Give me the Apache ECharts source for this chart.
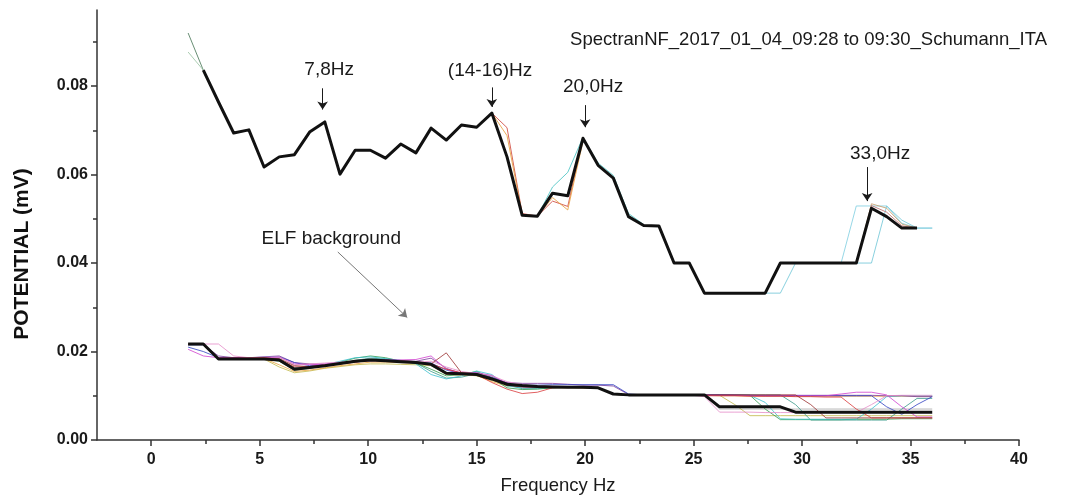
<!DOCTYPE html>
<html>
<head>
<meta charset="utf-8">
<title>Schumann ITA spectrum</title>
<script src="https://cdn.jsdelivr.net/npm/echarts@6/dist/echarts.min.js"></script>
<style>
  html, body { margin: 0; padding: 0; background: #fff; }
  #chart { width: 1069px; height: 502px; }
</style>
</head>
<body>
<div id="chart"></div>
<script>
// Frequency grid of the Spectran NF export (Hz)
const freq = [1.7, 2.4, 3.1, 3.8, 4.5, 5.2, 5.9, 6.6, 7.3, 8.0,
  8.7, 9.4, 10.1, 10.8, 11.5, 12.2, 12.9, 13.6, 14.3, 15.0,
  15.7, 16.4, 17.1, 17.8, 18.5, 19.2, 19.9, 20.6, 21.3, 22.0,
  22.7, 23.4, 24.1, 24.8, 25.5, 26.2, 26.9, 27.6, 28.3, 29.0,
  29.7, 30.4, 31.1, 31.8, 32.5, 33.2, 33.9, 34.6, 35.3, 36.0];

// Schumann resonance recording, mean curve (mV)
const schumannMean = [null, 0.0836, 0.0764, 0.0694, 0.0701, 0.0617, 0.0640, 0.0645, 0.0696, 0.0719,
  0.0601, 0.0655, 0.0655, 0.0637, 0.0669, 0.0649, 0.0705, 0.0678, 0.0712, 0.0707,
  0.0739, 0.0640, 0.0508, 0.0506, 0.0558, 0.0552, 0.0682, 0.0621, 0.0592, 0.0505,
  0.0485, 0.0484, 0.0400, 0.0400, 0.0332, 0.0332, 0.0332, 0.0332, 0.0332, 0.0400,
  0.0400, 0.0400, 0.0400, 0.0400, 0.0400, 0.0524, 0.0505, 0.0479, 0.0479, null];

// Individual sweeps where they leave the mean curve
const sweepGreenF = [1.7, 2.4];
const sweepGreenV = [0.0920, 0.0836];
const sweepLightGreenF = [1.7, 2.4];
const sweepLightGreenV = [0.0877, 0.0836];
const sweepRedF = [15.7, 16.4, 17.1, 17.8, 18.5, 19.2, 19.9];
const sweepRedV = [0.0739, 0.0706, 0.0512, 0.0506, 0.0540, 0.0528, 0.0682];
const sweepOrangeF = [15.7, 16.4, 17.1, 17.8, 18.5, 19.2, 19.9];
const sweepOrangeV = [0.0739, 0.0688, 0.0510, 0.0506, 0.0548, 0.0520, 0.0675];
const sweepCyanF = [17.8, 18.5, 19.2, 19.9, 20.6, 21.3, 22.0, 22.7];
const sweepCyanV = [0.0506, 0.0572, 0.0605, 0.0684, 0.0626, 0.0598, 0.0512, 0.0487];
const sweepCyanLateF = [27.6, 28.3, 29.0, 29.7, 30.4, 31.1, 31.8, 32.5, 33.2, 33.9, 34.6, 35.3, 36.0];
const sweepCyanLateV = [0.0332, 0.0332, 0.0332, 0.0400, 0.0400, 0.0400, 0.0400, 0.0400, 0.0400, 0.0529, 0.0497, 0.0479, 0.0479];
const sweepCyanEarlyF = [31.1, 31.8, 32.5, 33.2, 33.9, 34.6, 35.3, 36.0];
const sweepCyanEarlyV = [0.0400, 0.0400, 0.0529, 0.0529, 0.0529, 0.0490, 0.0479, 0.0479];
const sweepTanF = [32.5, 33.2, 33.9, 34.6, 35.3];
const sweepTanV = [0.0400, 0.0534, 0.0524, 0.0488, 0.0479];
const sweepRoseF = [32.5, 33.2, 33.9, 34.6, 35.3];
const sweepRoseV = [0.0400, 0.0530, 0.0515, 0.0484, 0.0479];

// ELF background, mean curve (mV)
const elfMean = [0.0217, 0.0217, 0.0183, 0.0183, 0.0183, 0.0183, 0.0181, 0.0160, 0.0164, 0.0168,
  0.0173, 0.0178, 0.0181, 0.0179, 0.0177, 0.0175, 0.0171, 0.0151, 0.0150, 0.0148,
  0.0138, 0.0126, 0.0123, 0.0121, 0.0120, 0.0119, 0.0119, 0.0118, 0.0104, 0.0102,
  0.0102, 0.0102, 0.0102, 0.0102, 0.0102, 0.0075, 0.0075, 0.0075, 0.0075, 0.0075,
  0.0063, 0.0063, 0.0063, 0.0063, 0.0063, 0.0063, 0.0063, 0.0063, 0.0063, 0.0063];

// ELF background, individual sweeps (mV)
const elfRed = [0.0217, 0.0217, 0.0185, 0.0185, 0.0185, 0.0186, 0.0182, 0.0165, 0.0166, 0.0170,
  0.0172, 0.0176, 0.0180, 0.0178, 0.0176, 0.0175, 0.0172, 0.0160, 0.0152, 0.0148,
  0.0130, 0.0115, 0.0105, 0.0108, 0.0118, 0.0120, 0.0120, 0.0118, 0.0104, 0.0102,
  0.0102, 0.0102, 0.0102, 0.0102, 0.0100, 0.0100, 0.0100, 0.0099, 0.0099, 0.0099,
  0.0098, 0.0098, 0.0097, 0.0097, 0.0070, 0.0050, 0.0050, 0.0050, 0.0050, 0.0050];
const elfPink = [0.0217, 0.0217, 0.0217, 0.0190, 0.0186, 0.0187, 0.0188, 0.0170, 0.0172, 0.0174,
  0.0176, 0.0178, 0.0180, 0.0180, 0.0178, 0.0176, 0.0178, 0.0165, 0.0155, 0.0150,
  0.0145, 0.0132, 0.0125, 0.0122, 0.0121, 0.0120, 0.0119, 0.0118, 0.0105, 0.0102,
  0.0102, 0.0102, 0.0102, 0.0102, 0.0098, 0.0063, 0.0063, 0.0063, 0.0062, 0.0062,
  0.0062, 0.0062, 0.0062, 0.0062, 0.0062, 0.0080, 0.0100, 0.0101, 0.0101, 0.0101];
const elfMagenta = [0.0205, 0.0190, 0.0186, 0.0186, 0.0186, 0.0186, 0.0187, 0.0172, 0.0170, 0.0172,
  0.0175, 0.0177, 0.0179, 0.0180, 0.0181, 0.0182, 0.0190, 0.0160, 0.0151, 0.0152,
  0.0146, 0.0128, 0.0120, 0.0119, 0.0120, 0.0121, 0.0120, 0.0119, 0.0103, 0.0102,
  0.0102, 0.0102, 0.0102, 0.0102, 0.0101, 0.0101, 0.0101, 0.0100, 0.0100, 0.0100,
  0.0100, 0.0100, 0.0100, 0.0104, 0.0108, 0.0108, 0.0102, 0.0075, 0.0052, 0.0052];
const elfBlue = [0.0210, 0.0200, 0.0186, 0.0186, 0.0186, 0.0187, 0.0188, 0.0175, 0.0168, 0.0170,
  0.0175, 0.0178, 0.0180, 0.0179, 0.0177, 0.0176, 0.0174, 0.0158, 0.0150, 0.0152,
  0.0142, 0.0128, 0.0124, 0.0124, 0.0125, 0.0125, 0.0125, 0.0125, 0.0125, 0.0104,
  0.0102, 0.0102, 0.0102, 0.0102, 0.0102, 0.0102, 0.0101, 0.0101, 0.0100, 0.0100,
  0.0100, 0.0100, 0.0100, 0.0100, 0.0100, 0.0100, 0.0075, 0.0058, 0.0080, 0.0098];
const elfPurple = [0.0215, 0.0215, 0.0190, 0.0186, 0.0186, 0.0188, 0.0190, 0.0175, 0.0172, 0.0171,
  0.0174, 0.0177, 0.0181, 0.0182, 0.0180, 0.0178, 0.0185, 0.0162, 0.0150, 0.0150,
  0.0140, 0.0130, 0.0128, 0.0128, 0.0128, 0.0126, 0.0124, 0.0124, 0.0122, 0.0103,
  0.0102, 0.0102, 0.0102, 0.0102, 0.0102, 0.0102, 0.0102, 0.0101, 0.0101, 0.0101,
  0.0101, 0.0101, 0.0101, 0.0101, 0.0101, 0.0101, 0.0100, 0.0100, 0.0098, 0.0098];
const elfGreen = [0.0216, 0.0216, 0.0184, 0.0184, 0.0184, 0.0184, 0.0178, 0.0158, 0.0162, 0.0168,
  0.0176, 0.0185, 0.0190, 0.0186, 0.0178, 0.0174, 0.0160, 0.0145, 0.0148, 0.0155,
  0.0140, 0.0118, 0.0114, 0.0115, 0.0118, 0.0119, 0.0119, 0.0118, 0.0104, 0.0102,
  0.0102, 0.0102, 0.0102, 0.0102, 0.0102, 0.0102, 0.0102, 0.0101, 0.0070, 0.0046,
  0.0046, 0.0046, 0.0046, 0.0046, 0.0047, 0.0047, 0.0047, 0.0048, 0.0048, 0.0048];
const elfCyan = [0.0215, 0.0215, 0.0184, 0.0184, 0.0184, 0.0184, 0.0180, 0.0162, 0.0164, 0.0170,
  0.0178, 0.0186, 0.0188, 0.0184, 0.0180, 0.0172, 0.0148, 0.0138, 0.0145, 0.0156,
  0.0148, 0.0122, 0.0118, 0.0118, 0.0119, 0.0120, 0.0119, 0.0118, 0.0103, 0.0102,
  0.0102, 0.0102, 0.0102, 0.0102, 0.0102, 0.0101, 0.0101, 0.0101, 0.0085, 0.0048,
  0.0047, 0.0047, 0.0047, 0.0047, 0.0047, 0.0070, 0.0098, 0.0100, 0.0100, 0.0100];
const elfOrange = [0.0216, 0.0216, 0.0184, 0.0184, 0.0184, 0.0184, 0.0170, 0.0155, 0.0158, 0.0163,
  0.0168, 0.0172, 0.0176, 0.0176, 0.0175, 0.0173, 0.0170, 0.0148, 0.0146, 0.0146,
  0.0132, 0.0122, 0.0120, 0.0119, 0.0118, 0.0118, 0.0118, 0.0117, 0.0103, 0.0102,
  0.0102, 0.0102, 0.0102, 0.0102, 0.0101, 0.0100, 0.0100, 0.0099, 0.0099, 0.0099,
  0.0099, 0.0099, 0.0099, 0.0099, 0.0099, 0.0099, 0.0099, 0.0099, 0.0099, 0.0099];
const elfOlive = [0.0216, 0.0216, 0.0184, 0.0184, 0.0184, 0.0183, 0.0165, 0.0152, 0.0156, 0.0162,
  0.0166, 0.0170, 0.0172, 0.0172, 0.0171, 0.0170, 0.0168, 0.0152, 0.0148, 0.0145,
  0.0135, 0.0124, 0.0121, 0.0120, 0.0120, 0.0119, 0.0118, 0.0117, 0.0103, 0.0101,
  0.0101, 0.0101, 0.0101, 0.0101, 0.0101, 0.0101, 0.0080, 0.0055, 0.0055, 0.0055,
  0.0055, 0.0055, 0.0055, 0.0055, 0.0055, 0.0055, 0.0055, 0.0055, 0.0055, 0.0055];
const elfDarkRed = [0.0216, 0.0216, 0.0184, 0.0185, 0.0185, 0.0185, 0.0184, 0.0168, 0.0166, 0.0168,
  0.0172, 0.0176, 0.0180, 0.0180, 0.0179, 0.0177, 0.0172, 0.0197, 0.0152, 0.0150,
  0.0140, 0.0124, 0.0120, 0.0120, 0.0120, 0.0119, 0.0118, 0.0118, 0.0104, 0.0102,
  0.0102, 0.0102, 0.0102, 0.0102, 0.0102, 0.0102, 0.0102, 0.0102, 0.0102, 0.0102,
  0.0102, 0.0080, 0.0050, 0.0050, 0.0050, 0.0050, 0.0050, 0.0050, 0.0050, 0.0050];
const elfTeal = [0.0216, 0.0216, 0.0184, 0.0184, 0.0184, 0.0184, 0.0182, 0.0164, 0.0165, 0.0168,
  0.0172, 0.0180, 0.0185, 0.0183, 0.0178, 0.0174, 0.0155, 0.0140, 0.0142, 0.0150,
  0.0145, 0.0125, 0.0116, 0.0116, 0.0118, 0.0119, 0.0119, 0.0118, 0.0103, 0.0102,
  0.0102, 0.0102, 0.0102, 0.0102, 0.0102, 0.0102, 0.0102, 0.0102, 0.0102, 0.0102,
  0.0080, 0.0045, 0.0045, 0.0045, 0.0045, 0.0045, 0.0045, 0.0070, 0.0094, 0.0094];
const elfGray = [0.0216, 0.0216, 0.0184, 0.0184, 0.0184, 0.0184, 0.0180, 0.0163, 0.0166, 0.0169,
  0.0173, 0.0177, 0.0180, 0.0179, 0.0177, 0.0175, 0.0170, 0.0150, 0.0149, 0.0149,
  0.0136, 0.0125, 0.0122, 0.0120, 0.0119, 0.0119, 0.0119, 0.0118, 0.0103, 0.0102,
  0.0102, 0.0102, 0.0102, 0.0102, 0.0100, 0.0070, 0.0070, 0.0070, 0.0070, 0.0070,
  0.0070, 0.0070, 0.0070, 0.0070, 0.0070, 0.0070, 0.0070, 0.0070, 0.0070, 0.0070];

// Axis ticks
const xMajorTicks = [0, 5, 10, 15, 20, 25, 30, 35, 40];
const xMinorTicks = [2.5, 7.5, 12.5, 17.5, 22.5, 27.5, 32.5, 37.5];
const yMajorTicks = [0, 0.02, 0.04, 0.06, 0.08];
const yMinorTicks = [0.01, 0.03, 0.05, 0.07, 0.09];

const FONT = '"Liberation Sans", Arial, sans-serif';
const INK = '#1a1a1a';

function onGrid(values) { return freq.map((f, i) => [f, values[i]]); }
function pairs(fs, vs) { return fs.map((f, i) => [f, vs[i]]); }

function thin(data, color, opacity) {
  return {
    type: 'line', data: data, symbol: 'none', silent: true, z: 2,
    lineStyle: { color: color, width: 1, opacity: opacity == null ? 0.85 : opacity, join: 'round' }
  };
}

const elfSweeps = [
  [elfGray, '#a8a8a8'], [elfOlive, '#c2b848'], [elfOrange, '#e8a33c'], [elfTeal, '#3a9a8a'],
  [elfGreen, '#2f9a4c'], [elfCyan, '#3cc0d0'], [elfPurple, '#7a3a9a'], [elfBlue, '#3040c0'],
  [elfMagenta, '#d040d0'], [elfPink, '#e58bc8'], [elfRed, '#d9383a'], [elfDarkRed, '#9a3030']
];

const series = [];
series.push(thin(pairs(sweepGreenF, sweepGreenV), '#4d7a5c'));
series.push(thin(pairs(sweepLightGreenF, sweepLightGreenV), '#9cc4a4'));
series.push(thin(pairs(sweepRedF, sweepRedV), '#d04a40'));
series.push(thin(pairs(sweepOrangeF, sweepOrangeV), '#e8a040'));
series.push(thin(pairs(sweepCyanF, sweepCyanV), '#4cc4c4'));
series.push(thin(pairs(sweepCyanLateF, sweepCyanLateV), '#74c8d8'));
series.push(thin(pairs(sweepCyanEarlyF, sweepCyanEarlyV), '#84d0e2'));
series.push(thin(pairs(sweepTanF, sweepTanV), '#c8a070'));
series.push(thin(pairs(sweepRoseF, sweepRoseV), '#c07070'));
elfSweeps.forEach(s => series.push(thin(onGrid(s[0]), s[1], 0.8)));

// ELF background mean
series.push({
  type: 'line', data: onGrid(elfMean), symbol: 'none', silent: true, z: 4,
  lineStyle: { color: '#111', width: 3, join: 'round' }
});

// Schumann mean with the peak annotations
series.push({
  type: 'line', data: onGrid(schumannMean), symbol: 'none', silent: true, z: 5,
  lineStyle: { color: '#111', width: 3, join: 'round' },
  markLine: {
    silent: true, symbol: ['none', 'arrow'], symbolSize: 8, animation: false,
    label: { show: false },
    lineStyle: { type: 'solid', color: INK, width: 1 },
    data: [
      [{ coord: [7.9, 0.0795] }, { coord: [7.9, 0.0747] }],
      [{ coord: [15.7, 0.0797] }, { coord: [15.7, 0.0753] }],
      [{ coord: [20.0, 0.0757] }, { coord: [20.0, 0.0707] }],
      [{ coord: [33.0, 0.0617] }, { coord: [33.0, 0.0540] }],
      [{ coord: [8.6, 0.0425], lineStyle: { color: '#777' } }, { coord: [11.8, 0.0277] }]
    ]
  },
  markPoint: {
    silent: true, symbol: 'circle', symbolSize: 0, animation: false,
    label: { show: true, position: 'inside', color: INK, fontSize: 19, fontFamily: FONT },
    data: [
      { coord: [8.2, 0.0836], label: { formatter: '7,8Hz' } },
      { coord: [15.62, 0.0834], label: { formatter: '(14-16)Hz' } },
      { coord: [20.37, 0.0798], label: { formatter: '20,0Hz' } },
      { coord: [33.6, 0.0648], label: { formatter: '33,0Hz' } },
      { coord: [8.3, 0.0455], label: { formatter: 'ELF background' } }
    ]
  }
});

const axisLineStyle = { color: '#333', width: 1.5 };

const option = {
  animation: false,
  backgroundColor: '#fff',
  title: {
    text: 'SpectranNF_2017_01_04_09:28 to 09:30_Schumann_ITA',
    right: 17, top: 25,
    textStyle: { fontSize: 18.5, fontWeight: 'normal', color: INK, fontFamily: FONT }
  },
  grid: { left: 97, right: 50, top: 10, bottom: 62, outerBoundsMode: 'none' },
  xAxis: [
    {
      type: 'value', min: -2.5, max: 40, position: 'bottom',
      name: 'Frequency Hz', nameLocation: 'middle', nameGap: 36,
      nameTextStyle: { fontSize: 18.5, color: INK, fontFamily: FONT },
      axisLine: { onZero: false, lineStyle: axisLineStyle },
      axisTick: { customValues: xMajorTicks, length: 6, lineStyle: axisLineStyle },
      axisLabel: { customValues: xMajorTicks, margin: 12, fontSize: 16, fontWeight: 'bold', color: INK, fontFamily: FONT },
      splitLine: { show: false }
    },
    {
      type: 'value', min: -2.5, max: 40, position: 'bottom',
      axisLine: { show: false, onZero: false },
      axisTick: { customValues: xMinorTicks, length: 4, lineStyle: axisLineStyle },
      axisLabel: { show: false },
      splitLine: { show: false }
    }
  ],
  yAxis: [
    {
      type: 'value', min: 0, max: 0.0972, position: 'left',
      axisLine: { show: true, onZero: false, lineStyle: axisLineStyle },
      axisTick: { show: true, customValues: yMajorTicks, length: 6, lineStyle: axisLineStyle },
      axisLabel: {
        customValues: yMajorTicks, margin: 9, fontSize: 16, fontWeight: 'bold', color: INK, fontFamily: FONT,
        formatter: v => v.toFixed(2)
      },
      splitLine: { show: false }
    },
    {
      type: 'value', min: 0, max: 0.0972, position: 'left',
      axisLine: { show: false, onZero: false },
      axisTick: { show: true, customValues: yMinorTicks, length: 4, lineStyle: axisLineStyle },
      axisLabel: { show: false },
      splitLine: { show: false }
    }
  ],
  graphic: [
    {
      type: 'text', x: 22, y: 254, rotation: Math.PI / 2,
      style: { text: 'POTENTIAL (mV)', fontSize: 21, fontWeight: 'bold', fontFamily: FONT, fill: '#111', align: 'center', verticalAlign: 'middle' }
    }
  ],
  series: series
};

const chart = echarts.init(document.getElementById('chart'), null, { renderer: 'canvas' });
chart.setOption(option);
</script>
</body>
</html>
